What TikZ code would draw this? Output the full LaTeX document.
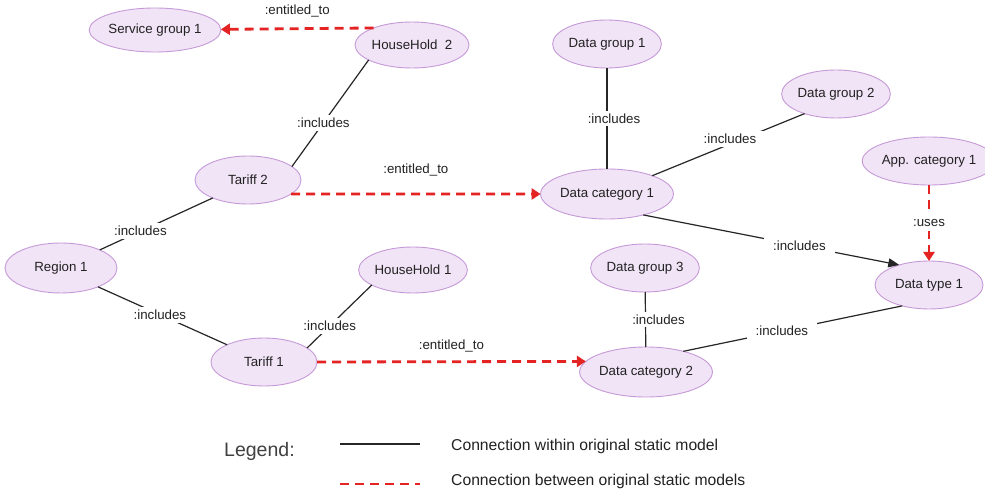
\documentclass[tikz,border=0pt]{standalone}
\usepackage{fontspec}
\setmainfont{Liberation Sans}
\usetikzlibrary{shapes.geometric,arrows.meta}
\definecolor{nodefill}{HTML}{F1E4F6}
\definecolor{nodedraw}{HTML}{C69AD8}
\definecolor{linkred}{HTML}{E42323}
\definecolor{txt}{HTML}{222222}

\begin{document}
\begin{tikzpicture}[x=1pt,y=-1pt,
  ent/.style={ellipse, draw=nodedraw, fill=nodefill, line width=0.9pt,
    inner sep=0pt, outer sep=0pt, text=txt,
    font=\fontsize{13.3}{15}\selectfont},
  intra/.style={draw=black!85, line width=1.2pt},
  inter/.style={draw=linkred, line width=2.8pt, dash pattern=on 9pt off 6pt},
  redtip/.style={-{Triangle[length=9pt,width=11pt]}},
  blacktip/.style={-{Triangle[length=11pt,width=9pt]}},
  lbl/.style={fill=white, inner xsep=9pt, inner ysep=3pt, text=txt,
    font=\fontsize{13.3}{15}\selectfont},
  toplbl/.style={inner sep=0pt, text=txt, font=\fontsize{13.3}{15}\selectfont},
  legtext/.style={anchor=west, inner sep=0pt, text=txt,
    font=\fontsize{15.7}{18}\selectfont}
]
\fill[white] (0,0) rectangle (985,494);
\useasboundingbox (0,0) rectangle (985,494);

% entities
\node[ent, minimum width=112pt, minimum height=44pt] (sg1) at (155,30) {Service group 1};
\node[ent, minimum width=100pt, minimum height=46pt] (hh2) at (412,45) {HouseHold\ \ 2};
\node[ent, minimum width=102pt, minimum height=48pt] (dg1) at (607,44) {Data group 1};
\node[ent, minimum width=100pt, minimum height=48pt] (dg2) at (836,94) {Data group 2};
\node[ent, minimum width=110pt, minimum height=48pt] (ac1) at (929,161) {App. category 1};
\node[ent, minimum width=106pt, minimum height=48pt] (t2) at (248,180) {Tariff 2};
\node[ent, minimum width=122pt, minimum height=50pt] (dc1) at (607,194) {Data category 1};
\node[ent, minimum width=112pt, minimum height=50pt] (r1) at (61,268) {Region 1};
\node[ent, minimum width=100pt, minimum height=46pt] (hh1) at (413,270) {HouseHold 1};
\node[ent, minimum width=100pt, minimum height=48pt] (dg3) at (645,268) {Data group 3};
\node[ent, minimum width=108pt, minimum height=48pt] (dt1) at (929,285) {Data type 1};
\node[ent, minimum width=106pt, minimum height=48pt] (t1) at (264,362) {Tariff 1};
\node[ent, minimum width=120pt, minimum height=50pt] (dc2) at (646,372) {Data category 2};

% connections within one static model
\draw[intra] (hh2.199) -- node[lbl, pos=0.59] {:includes} (t2.17);
\draw[intra] (t2.207) -- node[lbl, pos=0.64] {:includes} (r1.25);
\draw[intra] (r1.333) -- node[lbl, pos=0.48] {:includes} (t1.155);
\draw[intra] (hh1.200) -- node[lbl, pos=0.65] {:includes} (t1.18);
\draw[intra] (dg1) -- node[lbl, midway, xshift=7pt] {:includes} (dc1);
\draw[intra] (dg2.212) -- node[lbl, pos=0.49, yshift=5pt] {:includes} (dc1.22);
\draw[intra, blacktip] (dc1.330) -- node[lbl, pos=0.61] {:includes} (dt1.146);
\draw[intra] (dg3) -- node[lbl, midway, xshift=13pt] {:includes} (dc2);
\draw[intra] (dc2.29) -- node[lbl, pos=0.45] {:includes} (dt1.218);

% connections between static models
\draw[inter, redtip] (hh2.156) -- node[toplbl, midway, yshift=18pt] {:entitled\_to} (sg1);
\draw[inter, redtip] (t2.342) -- node[toplbl, midway, yshift=24pt] {:entitled\_to} (dc1.180);
\draw[inter, redtip] (t1.east) -- node[toplbl, midway, yshift=16pt] {:entitled\_to} (dc2.170);
\draw[inter, redtip] (ac1) -- node[lbl, midway, inner xsep=3pt, inner ysep=4pt] {:uses} (dt1);

% legend
\node[anchor=west, inner sep=0pt, text=black!75, font=\fontsize{19.5}{22}\selectfont] (legtitle) at (224,451) {Legend:};
\coordinate (la1) at (340,444);
\coordinate (la2) at (420,444);
\coordinate (lb1) at (340,484);
\coordinate (lb2) at (420,484);
\draw[intra] (la1) -- (la2);
\draw[inter] (lb1) -- (lb2);
\node[legtext] (legwithin) at (451,446) {Connection within original static model};
\node[legtext] (legbetween) at (451,481) {Connection between original static models};
\end{tikzpicture}
\end{document}
